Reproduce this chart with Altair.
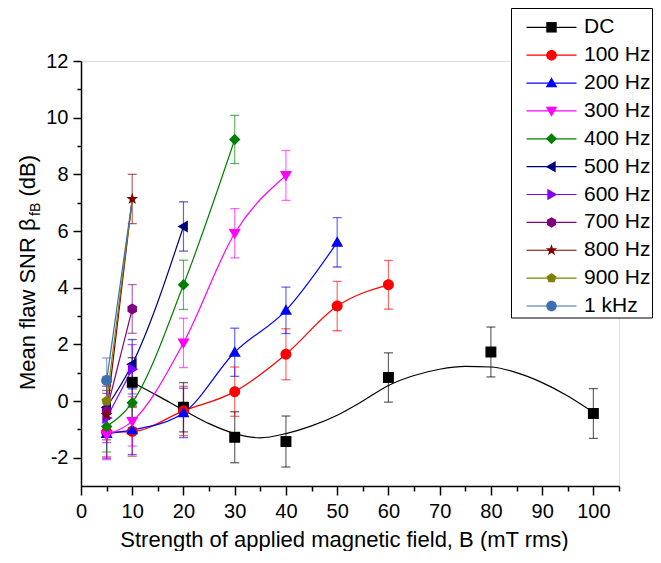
import altair as alt
import pandas as pd

# ---------------- data ----------------
series = ["DC", "100 Hz", "200 Hz", "300 Hz", "400 Hz", "500 Hz",
          "600 Hz", "700 Hz", "800 Hz", "900 Hz", "1 kHz"]
colors = ["#000000", "#ff0000", "#0000ff", "#ff00ff", "#008000", "#000080",
          "#8000ff", "#800080", "#800000", "#808000", "#3d6fb0"]

x_dc = [10, 20, 30, 40, 60, 80, 100]
y_dc = [0.66, -0.22, -1.28, -1.43, 0.83, 1.73, -0.44]
e_dc = [0.87, 0.87, 0.9, 0.9, 0.87, 0.88, 0.88]

x_100 = [5, 10, 20, 30, 40, 50, 60]
y_100 = [-1.1, -1.08, -0.35, 0.33, 1.65, 3.35, 4.1]
e_100 = [0.87, 0.87, 0.87, 0.87, 0.9, 0.87, 0.86]

x_200 = [5, 10, 20, 30, 40, 50]
y_200 = [-1.15, -1.02, -0.42, 1.72, 3.2, 5.6]
e_200 = [0.87, 0.87, 0.87, 0.85, 0.82, 0.87]

x_300 = [5, 10, 20, 30, 40]
y_300 = [-1.2, -0.72, 2.05, 5.92, 7.96]
e_300 = [0.87, 0.87, 0.87, 0.87, 0.88]

x_400 = [5, 10, 20, 30]
y_400 = [-0.9, -0.06, 4.1, 9.23]
e_400 = [0.9, 0.87, 0.87, 0.85]

x_500 = [5, 10, 20]
y_500 = [-0.22, 1.3, 6.16]
e_500 = [0.87, 0.87, 0.87]

x_600 = [5, 10]
y_600 = [-0.6, 1.12]
e_600 = [0.87, 0.87]

x_700 = [5, 10]
y_700 = [-0.35, 3.25]
e_700 = [0.87, 0.86]

x_800 = [5, 10]
y_800 = [-0.5, 7.13]
e_800 = [0.87, 0.87]

x_900 = [5, 10]
y_900 = [0.0, 7.1]
e_900 = [0.87, 0.87]

x_1k = [5, 10]
y_1k = [0.72, 7.12]
e_1k = [0.8, 0.87]

# points whose markers are hidden under the 800 Hz star in the reference
hidden = [("900 Hz", 10), ("1 kHz", 10)]

# fitted curve drawn through the DC data
fit_x = [10, 15, 20, 25, 30, 35, 40, 45, 50, 55, 60, 65, 70, 75, 80, 85, 90, 95, 100]
fit_y = [0.66, 0.18, -0.32, -0.8, -1.15, -1.3, -1.15, -0.88, -0.5, 0.0, 0.55,
         0.9, 1.12, 1.22, 1.2, 1.0, 0.65, 0.18, -0.4]

x_ticks = [0, 5, 10, 15, 20, 25, 30, 35, 40, 45, 50, 55, 60, 65, 70, 75, 80, 85, 90, 95, 100, 105]
y_ticks = [-2, -1, 0, 1, 2, 3, 4, 5, 6, 7, 8, 9, 10, 11, 12]

# ---------------- marker shapes ----------------
SQ = "M-1,-1H1V1H-1Z"
CI = "M1,0A1,1,0,1,1,-1,0A1,1,0,1,1,1,0Z"
TU = "M0,-1.1L1.1,0.8L-1.1,0.8Z"
TD = "M0,1.1L-1.1,-0.8L1.1,-0.8Z"
DI = "M0,-1.05L1.05,0L0,1.05L-1.05,0Z"
TL = "M-1.1,0L0.8,-1.1L0.8,1.1Z"
TR = "M1.1,0L-0.8,1.1L-0.8,-1.1Z"
HX = "M0,-1L0.866,-0.5L0.866,0.5L0,1L-0.866,0.5L-0.866,-0.5Z"
ST = ("M0,-1.15L0.27,-0.37L1.09,-0.36L0.44,0.14L0.68,0.93L0,0.46L-0.68,0.93"
      "L-0.44,0.14L-1.09,-0.36L-0.27,-0.37Z")
PE = "M0,-1L0.951,-0.309L0.588,0.809L-0.588,0.809L-0.951,-0.309Z"
shapes = [SQ, CI, TU, TD, DI, TL, TR, HX, ST, PE, CI]

# ---------------- tables ----------------
xs = [x_dc, x_100, x_200, x_300, x_400, x_500, x_600, x_700, x_800, x_900, x_1k]
ys = [y_dc, y_100, y_200, y_300, y_400, y_500, y_600, y_700, y_800, y_900, y_1k]
es = [e_dc, e_100, e_200, e_300, e_400, e_500, e_600, e_700, e_800, e_900, e_1k]

rows = []
for i, s in enumerate(series):
    for xv, yv, ev in zip(xs[i], ys[i], es[i]):
        rows.append(dict(series=s, x=xv, y=yv, lo=yv - ev, hi=yv + ev, z=i,
                         show=0 if (s, xv) in hidden else 1))
pts = pd.DataFrame(rows)

line_rows = [dict(series="DC", x=a, y=b) for a, b in zip(fit_x, fit_y)]
for i, s in enumerate(series):
    if i == 0:
        continue
    for xv, yv in zip(xs[i], ys[i]):
        line_rows.append(dict(series=s, x=xv, y=yv))
lines = pd.DataFrame(line_rows)

leg = pd.DataFrame({"series": series})

FONT = "Liberation Sans"
xscale = alt.Scale(domain=[0, 105], nice=False, zero=False)
yscale = alt.Scale(domain=[-3, 12], nice=False, zero=False)


def cscale():
    return alt.Scale(domain=series, range=colors)


def sscale():
    return alt.Scale(domain=series, range=shapes)


x_axis = alt.Axis(
    orient="bottom",
    values=x_ticks, labelExpr="datum.value % 10 === 0 ? datum.label : ''",
    tickSize={"condition": {"test": "datum.value % 10 === 0", "value": 9}, "value": 5},
    tickWidth=1.5, tickColor="black", domainColor="black", domainWidth=1.5,
    labelFont=FONT, labelFontSize=20, labelColor="black", labelPadding=6,
    labelFlush=False, labelOverlap=False, grid=False,
    title="Strength of applied magnetic field, B (mT rms)",
    titleFont=FONT, titleFontSize=22, titleFontWeight="normal", titleColor="black",
    titleX=263, titleY=60, titleBaseline="alphabetic", titleAlign="center",
)
y_axis = alt.Axis(
    orient="left",
    values=y_ticks, labelExpr="datum.value % 2 === 0 ? toString(datum.value) : ''",
    tickSize={"condition": {"test": "datum.value % 2 === 0", "value": 8}, "value": 4},
    tickWidth=1.5, tickColor="black", domainColor="black", domainWidth=1.5,
    labelFont=FONT, labelFontSize=20, labelColor="black", labelPadding=5,
    labelFlush=False, labelOverlap=False, grid=False, title="",
)

base = alt.Chart(pts)
shown = base.transform_filter("datum.show == 1")

err = shown.mark_rule(strokeWidth=1.2, opacity=0.6).encode(
    x=alt.X("x:Q", scale=xscale, axis=x_axis),
    y=alt.Y("lo:Q", scale=yscale, axis=None),
    y2="hi:Q",
    color=alt.Color("series:N", scale=cscale(), legend=None),
)

caps = shown.transform_fold(["lo", "hi"], as_=["k", "v"]).mark_tick(
    orient="horizontal", size=9, thickness=1.3, opacity=0.6
).encode(
    x=alt.X("x:Q", scale=xscale, axis=x_axis),
    y=alt.Y("v:Q", scale=yscale, axis=None),
    color=alt.Color("series:N", scale=cscale(), legend=None),
)

curves = alt.Chart(lines).mark_line(strokeWidth=1.2, interpolate="monotone").encode(
    x=alt.X("x:Q", scale=xscale, axis=x_axis),
    y=alt.Y("y:Q", scale=yscale, axis=None),
    color=alt.Color("series:N", scale=cscale(), legend=None),
)

points = shown.mark_point(filled=True, size=120, opacity=1, strokeWidth=0).encode(
    x=alt.X("x:Q", scale=xscale, axis=x_axis),
    y=alt.Y("y:Q", scale=yscale, axis=y_axis),
    color=alt.Color("series:N", scale=cscale(), legend=None),
    shape=alt.Shape("series:N", scale=sscale(), legend=None),
    order=alt.Order("z:Q"),
)

# ---------------- legend (box with line + marker + label rows) ----------------
leg_y = alt.Y("series:N", scale=alt.Scale(type="point", domain=series,
                                         range=[-33.7, 245], padding=0), axis=None)
dummy = alt.Chart(pd.DataFrame({"a": [0]}))
leg_box = dummy.mark_rect(fill="white", stroke="black", strokeWidth=1).encode(
    x=alt.value(430.5), x2=alt.value(571.5), y=alt.value(-52.5), y2=alt.value(257))
leg_lines = alt.Chart(leg).mark_rule(strokeWidth=1.2).encode(
    x=alt.value(445.5), x2=alt.value(495.5), y=leg_y,
    color=alt.Color("series:N", scale=cscale(), legend=None))
leg_marks = alt.Chart(leg).mark_point(filled=True, size=110, opacity=1, strokeWidth=0).encode(
    x=alt.value(470.5), y=leg_y,
    color=alt.Color("series:N", scale=cscale(), legend=None),
    shape=alt.Shape("series:N", scale=sscale(), legend=None))
leg_text = alt.Chart(leg).mark_text(align="left", baseline="middle", font=FONT,
                                     fontSize=21, color="black").encode(
    x=alt.value(503), y=leg_y, text="series:N")

# ---------------- y title with subscript ----------------
t1 = dummy.mark_text(angle=270, align="left", baseline="alphabetic", font=FONT,
                     fontSize=22, color="black").encode(
    x=alt.value(-46), y=alt.value(329), text=alt.value("Mean flaw SNR β"))
t2 = dummy.mark_text(angle=270, align="left", baseline="alphabetic", font=FONT,
                     fontSize=14, color="black").encode(
    x=alt.value(-41), y=alt.value(155), text=alt.value("fB"))
t3 = dummy.mark_text(angle=270, align="left", baseline="alphabetic", font=FONT,
                     fontSize=22, color="black").encode(
    x=alt.value(-46), y=alt.value(135.5), text=alt.value("(dB)"))

chart = alt.layer(
    err, caps, curves, points, leg_box, leg_lines, leg_marks, leg_text, t1, t2, t3
).resolve_scale(
    color="independent", shape="independent", y="independent"
).properties(
    width=538, height=425,
    autosize=alt.AutoSizeParams(type="none"),
    padding={"left": 73, "top": 53, "right": 34, "bottom": 65},
).configure_view(strokeWidth=0).configure(font=FONT)

chart.save("out.html", embed_options={"renderer": "svg", "actions": False})
